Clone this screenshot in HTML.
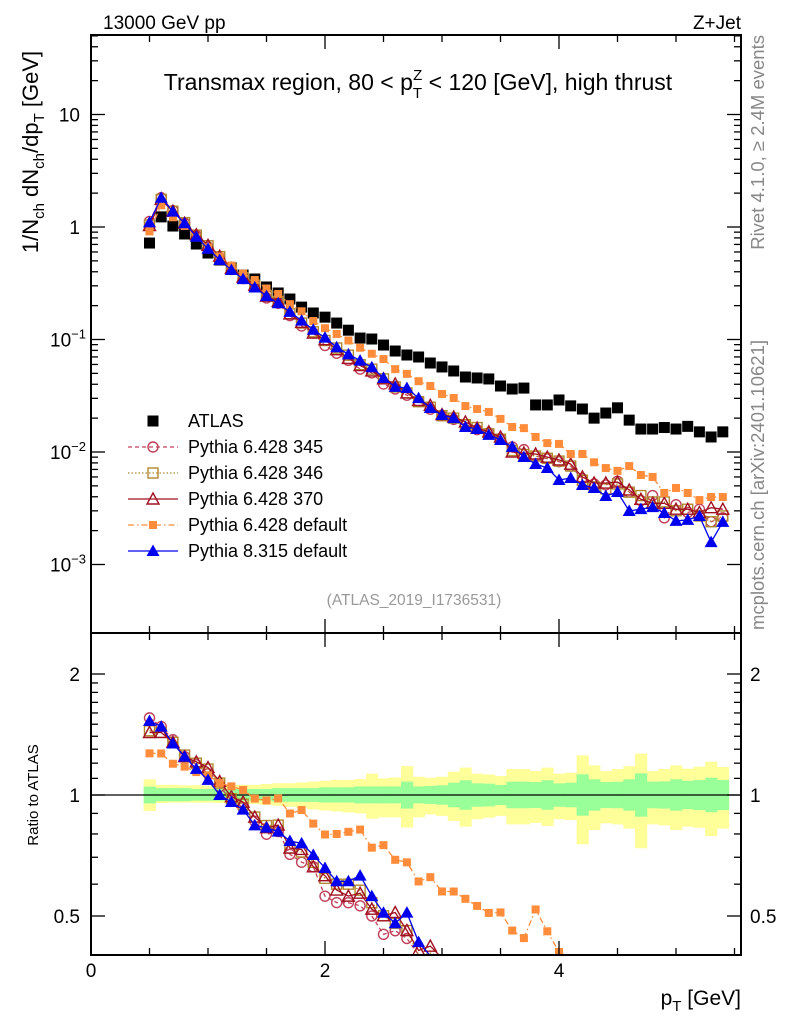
<!DOCTYPE html>
<html><head><meta charset="utf-8"><style>
html,body{margin:0;padding:0;background:#fff;overflow:hidden;width:786px;height:1024px;}
svg{display:block;font-family:"Liberation Sans",sans-serif;}
</style></head><body>
<svg id="c" width="786" height="1024" viewBox="0 0 786 1024" xmlns="http://www.w3.org/2000/svg">
<defs>
<clipPath id="cm"><rect x="91" y="35" width="650" height="598"/></clipPath>
<clipPath id="cr"><rect x="91" y="633" width="650" height="322"/></clipPath>
</defs>
<g id="bands" clip-path="url(#cr)"></g>
<line x1="91" y1="795" x2="741" y2="795" stroke="#000" stroke-width="1.2"/>
<g id="main" clip-path="url(#cm)"></g>
<g id="ratio" clip-path="url(#cr)"></g>
<g id="axes"></g>
<rect x="91" y="35" width="650" height="598" fill="none" stroke="#000" stroke-width="2"/>
<rect x="91" y="633" width="650" height="322" fill="none" stroke="#000" stroke-width="2"/>
<text x="103" y="29" font-size="19">13000 GeV pp</text>
<text x="741" y="29" font-size="19" text-anchor="end">Z+Jet</text>
<text x="418" y="90" font-size="23" text-anchor="middle">Transmax region, 80 &lt; p<tspan font-size="15" dy="8">T</tspan><tspan font-size="15" dx="-9" dy="-18">Z</tspan><tspan dy="10"> &lt; 120 [GeV], high thrust</tspan></text>
<text transform="translate(764,35) rotate(-90)" font-size="18.5" fill="#888" text-anchor="end">Rivet 4.1.0, ≥ 2.4M events</text>
<text transform="translate(764,630) rotate(-90)" font-size="18.5" fill="#888">mcplots.cern.ch [arXiv:2401.10621]</text>
<text transform="translate(38,152) rotate(-90)" font-size="22" text-anchor="middle">1/N<tspan font-size="15" dy="6">ch</tspan><tspan dy="-6"> dN</tspan><tspan font-size="15" dy="6">ch</tspan><tspan dy="-6">/dp</tspan><tspan font-size="15" dy="6">T</tspan><tspan dy="-6"> [GeV]</tspan></text>
<text transform="translate(38,795) rotate(-90)" font-size="15" text-anchor="middle">Ratio to ATLAS</text>
<text x="414" y="605" font-size="15.5" fill="#999" text-anchor="middle">(ATLAS_2019_I1736531)</text>
<text x="741" y="1005" font-size="21" text-anchor="end">p<tspan font-size="15" dy="6">T</tspan><tspan dy="-6"> [GeV]</tspan></text>
<g id="legend"></g>
</svg>
<script>
const xs = [0.5,0.6,0.7,0.8,0.9,1.0,1.1,1.2,1.3,1.4,1.5,1.6,1.7,1.8,1.9,2.0,2.1,2.2,2.3,2.4,2.5,2.6,2.7,2.8,2.9,3.0,3.1,3.2,3.3,3.4,3.5,3.6,3.7,3.8,3.9,4.0,4.1,4.2,4.3,4.4,4.5,4.6,4.7,4.8,4.9,5.0,5.1,5.2,5.3,5.4];
const atlas = [0.72,1.23,1.02,0.867,0.706,0.587,0.509,0.432,0.374,0.345,0.293,0.259,0.229,0.194,0.172,0.158,0.14,0.121,0.103,0.101,0.0893,0.079,0.0728,0.0699,0.0618,0.057,0.0525,0.0464,0.0455,0.0446,0.0386,0.0363,0.037,0.0262,0.0262,0.029,0.0257,0.0241,0.020,0.0222,0.0247,0.0192,0.016,0.016,0.0165,0.016,0.0169,0.0151,0.0136,0.0151];
const p345 = [1.12,1.82,1.40,1.08,0.84,0.663,0.534,0.419,0.348,0.297,0.234,0.21,0.163,0.132,0.114,0.0885,0.0756,0.0653,0.0546,0.0505,0.0402,0.0363,0.032,0.028,0.024,0.021,0.0195,0.0175,0.0158,0.0148,0.0132,0.0111,0.0105,0.0092,0.0087,0.0082,0.0075,0.0058,0.0052,0.0051,0.0055,0.0044,0.0037,0.0041,0.0026,0.0034,0.0029,0.0031,0.0024,0.0026];
const p346 = [1.04,1.76,1.38,1.09,0.847,0.681,0.545,0.423,0.355,0.304,0.246,0.218,0.169,0.14,0.117,0.098,0.084,0.0726,0.0597,0.0545,0.0447,0.0379,0.0335,0.028,0.025,0.021,0.020,0.0175,0.0165,0.0145,0.013,0.0103,0.0095,0.0092,0.0088,0.0083,0.0075,0.0056,0.0049,0.0047,0.0052,0.0044,0.0041,0.0036,0.0036,0.0030,0.0031,0.0027,0.0024,0.0027];
const p370 = [1.03,1.76,1.38,1.08,0.854,0.687,0.55,0.428,0.359,0.304,0.243,0.218,0.169,0.142,0.114,0.0995,0.0812,0.0678,0.0587,0.0525,0.0447,0.0403,0.0335,0.0287,0.026,0.0215,0.0205,0.0185,0.0163,0.0151,0.0136,0.0100,0.0098,0.0096,0.009,0.0085,0.0078,0.0060,0.0053,0.0053,0.0054,0.0046,0.0038,0.0035,0.0035,0.0031,0.0031,0.0029,0.0032,0.0031];
const p6def = [0.914,1.56,1.22,1.02,0.805,0.657,0.545,0.454,0.385,0.338,0.284,0.254,0.206,0.178,0.146,0.126,0.112,0.098,0.0845,0.0747,0.067,0.0545,0.0495,0.0426,0.0386,0.0328,0.0302,0.0256,0.0241,0.0227,0.0197,0.0167,0.0163,0.0136,0.0120,0.0118,0.0096,0.0096,0.0081,0.0072,0.0068,0.0075,0.00625,0.0060,0.00432,0.00479,0.00432,0.00374,0.00398,0.00398];
const p8 = [1.10,1.82,1.37,1.08,0.82,0.64,0.509,0.415,0.344,0.29,0.243,0.21,0.176,0.147,0.122,0.104,0.0854,0.0738,0.0649,0.0566,0.0455,0.0379,0.0371,0.0301,0.0246,0.0213,0.0200,0.0167,0.0160,0.0142,0.0128,0.0111,0.00903,0.00782,0.00721,0.00564,0.00587,0.00509,0.00479,0.00406,0.00441,0.00299,0.00311,0.00324,0.00287,0.00244,0.00249,0.0027,0.00158,0.00239];
const bandTotUp = [1.094,1.06,1.06,1.057,1.057,1.055,1.055,1.06,1.06,1.06,1.065,1.07,1.07,1.075,1.08,1.085,1.09,1.09,1.095,1.13,1.1,1.105,1.18,1.11,1.104,1.11,1.143,1.17,1.13,1.125,1.115,1.16,1.16,1.147,1.17,1.13,1.136,1.255,1.185,1.147,1.16,1.18,1.267,1.147,1.16,1.185,1.163,1.176,1.21,1.174];
const bandTotDn = [0.912,0.955,0.957,0.957,0.957,0.957,0.955,0.955,0.95,0.95,0.945,0.94,0.935,0.93,0.92,0.915,0.91,0.905,0.9,0.873,0.88,0.88,0.83,0.88,0.895,0.887,0.862,0.834,0.87,0.878,0.887,0.845,0.845,0.853,0.837,0.87,0.866,0.754,0.818,0.85,0.845,0.825,0.737,0.845,0.84,0.818,0.834,0.829,0.79,0.825];
const bandStatUp = [1.049,1.04,1.04,1.04,1.035,1.035,1.035,1.035,1.035,1.035,1.035,1.04,1.04,1.04,1.04,1.045,1.045,1.045,1.05,1.05,1.05,1.05,1.08,1.05,1.053,1.057,1.073,1.088,1.069,1.067,1.059,1.079,1.079,1.077,1.088,1.069,1.073,1.126,1.094,1.077,1.079,1.094,1.132,1.079,1.081,1.094,1.085,1.09,1.104,1.09];
const bandStatDn = [0.953,0.965,0.965,0.965,0.968,0.968,0.968,0.968,0.968,0.968,0.968,0.962,0.962,0.962,0.962,0.958,0.958,0.958,0.953,0.953,0.953,0.953,0.925,0.953,0.95,0.946,0.932,0.919,0.935,0.937,0.944,0.927,0.927,0.928,0.919,0.935,0.932,0.888,0.914,0.928,0.927,0.914,0.883,0.927,0.925,0.914,0.922,0.917,0.906,0.917];
const xTicks = [0,2,4];
const yDecades = [-3,-2,-1,0,1];
const ratioLabels = [0.5,1,2];

const NS="http://www.w3.org/2000/svg";
const X=v=>91+117*v, Y=v=>227-112.5*Math.log10(v), R=r=>795-121*Math.log2(r);
function mk(p,tag,a){const e=document.createElementNS(NS,tag);for(const k in a)e.setAttribute(k,a[k]);p.appendChild(e);return e;}
const gB=document.getElementById('bands'),gM=document.getElementById('main'),gR=document.getElementById('ratio'),gA=document.getElementById('axes'),gL=document.getElementById('legend');
const hw=0.05;
xs.forEach((x,i)=>{
  let e=mk(gB,'rect',{x:X(x-hw),width:117*2*hw+0.5,y:R(bandTotUp[i]),height:R(bandTotDn[i])-R(bandTotUp[i]),fill:'#ffff99'});
  
  
});
xs.forEach((x,i)=>{
  let e=mk(gB,'rect',{x:X(x-hw),width:117*2*hw+0.5,y:R(bandStatUp[i]),height:R(bandStatDn[i])-R(bandStatUp[i]),fill:'#99ff99'});
  
  
});
function marker(g,type,cx,cy,col){
  let e;
  if(type==='sq') e=mk(g,'rect',{x:cx-5.5,y:cy-5.5,width:11,height:11,fill:'#000'});
  else if(type==='fsq') e=mk(g,'rect',{x:cx-4,y:cy-4,width:8,height:8,fill:col});
  else if(type==='osq') e=mk(g,'rect',{x:cx-5,y:cy-5,width:10,height:10,fill:'none',stroke:col,'stroke-width':1.4});
  else if(type==='ci') e=mk(g,'circle',{cx:cx,cy:cy,r:5,fill:'none',stroke:col,'stroke-width':1.4});
  else if(type==='otri') e=mk(g,'path',{d:`M${cx},${cy-6}L${cx+6},${cy+5}L${cx-6},${cy+5}Z`,fill:'none',stroke:col,'stroke-width':1.4});
  else e=mk(g,'path',{d:`M${cx},${cy-6.5}L${cx+6.5},${cy+5}L${cx-6.5},${cy+5}Z`,fill:col});
  return e;
}
const series=[
 {name:'pythia-6428-345',label:'Pythia 6.428 345',d:p345,col:'#c0405a',m:'ci',dash:'4,3'},
 {name:'pythia-6428-346',label:'Pythia 6.428 346',d:p346,col:'#b08830',m:'osq',dash:'1.5,2'},
 {name:'pythia-6428-370',label:'Pythia 6.428 370',d:p370,col:'#a01020',m:'otri',dash:''},
 {name:'pythia-6428-default',label:'Pythia 6.428 default',d:p6def,col:'#ff8c3a',m:'fsq',dash:'6,3,1.5,3'},
 {name:'pythia-8315-default',label:'Pythia 8.315 default',d:p8,col:'#0000ee',m:'ftri',dash:''}
];
xs.forEach((x,i)=>{
  let e=marker(gM,'sq',X(x),Y(atlas[i]));
  
  
});
series.forEach(s=>{
  const pm=xs.map((x,i)=>X(x).toFixed(1)+','+Y(s.d[i]).toFixed(1)).join(' ');
  let l=mk(gM,'polyline',{points:pm,fill:'none',stroke:s.col,'stroke-width':1.3,'stroke-dasharray':s.dash});
  
  
  xs.forEach((x,i)=>{
    let e=marker(gM,s.m,X(x),Y(s.d[i]),s.col);
    
    
  });
  const pts=[];
  xs.forEach((x,i)=>{const y=R(s.d[i]/atlas[i]); pts.push([X(x),Math.min(y,958)]);});
  let cut=pts.findIndex(p=>p[1]>=958);
  const used=cut<0?pts:pts.slice(0,cut+1);
  let lr=mk(gR,'polyline',{points:used.map(p=>p[0].toFixed(1)+','+p[1].toFixed(1)).join(' '),fill:'none',stroke:s.col,'stroke-width':1.3,'stroke-dasharray':s.dash});
  
  
  xs.forEach((x,i)=>{
    const cy=R(s.d[i]/atlas[i]);
    if(cy>952) return;
    let e=marker(gR,s.m,X(x),cy,s.col);
    
    
  });
});
for(let v=0;v<=5.5;v+=0.5){
  const major=Math.abs(v%2)<1e-6, L=major?14:7;
  [[35,1],[633,-1],[633,1],[955,-1]].forEach(([y0,dir])=>{
    let t=mk(gA,'line',{x1:X(v),x2:X(v),y1:y0,y2:y0+dir*L,stroke:'#000','stroke-width':1.3});
    
    
  });
}
xTicks.forEach(v=>{
  let t=mk(gA,'text',{x:X(v),y:977,'font-size':19,'text-anchor':'middle'});t.textContent=v;
  
  
});
yDecades.forEach(d=>{
  for(let k=1;k<=9;k++){
    const v=k*Math.pow(10,d), y=Y(v);
    if(y<35||y>633) continue;
    const L=k===1?14:7;
    [[91,1],[741,-1]].forEach(([x0,dir])=>{
      let t=mk(gA,'line',{x1:x0,x2:x0+dir*L,y1:y,y2:y,stroke:'#000','stroke-width':1.3});
      
      
    });
  }
  const t=mk(gA,'text',{x:80,y:Y(Math.pow(10,d))+7,'font-size':19,'text-anchor':'end'});
  if(d===0) t.textContent='1'; else if(d===1) t.textContent='10';
  else {t.textContent='10';const s=document.createElementNS(NS,'tspan');s.setAttribute('font-size','13');s.setAttribute('dy','-8');s.textContent=String(d).replace('-','−');t.appendChild(s);t.setAttribute('x',86);}
  
  
});
[0.4,0.5,0.6,0.7,0.8,0.9,1,1.1,1.2,1.3,1.4,1.5,1.6,1.7,1.8,1.9,2].forEach(r=>{
  const y=R(r); if(y<633||y>955) return;
  const major=ratioLabels.includes(r), L=major?14:7;
  [[91,1],[741,-1]].forEach(([x0,dir])=>{
    let t=mk(gA,'line',{x1:x0,x2:x0+dir*L,y1:y,y2:y,stroke:'#000','stroke-width':1.3});
    
    
  });
});
ratioLabels.forEach(r=>{
  [[80,'end'],[750,'start']].forEach(([x,a])=>{
    let t=mk(gA,'text',{x:x,y:R(r)+7,'font-size':19,'text-anchor':a});t.textContent=r;
    
    
  });
});
const legY=[421,447,473,499,525,551];
let a=marker(gL,'sq',153,legY[0]);


let at=mk(gL,'text',{x:188,y:legY[0]+6,'font-size':18});at.textContent='ATLAS';


series.forEach((s,i)=>{
  const y=legY[i+1];
  let l=mk(gL,'line',{x1:128,x2:178,y1:y,y2:y,stroke:s.col,'stroke-width':1.3,'stroke-dasharray':s.dash});
  
  
  let m=marker(gL,s.m,153,y,s.col);
  
  
  let t=mk(gL,'text',{x:188,y:y+6,'font-size':18});t.textContent=s.label;
  
  
});
</script>
</body></html>
